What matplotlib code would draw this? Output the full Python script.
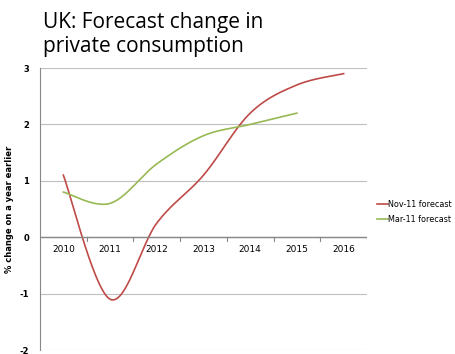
import numpy as np
import matplotlib
matplotlib.use('Agg')
import matplotlib.pyplot as plt

years = ['2010', '2011', '2012', '2013', '2014', '2015', '2016']
nov11 = [1.1, -1.1, 0.25, 1.1, 2.2, 2.7, 2.9]
mar11 = [0.8, 0.6, 1.3, 1.8, 2.0, 2.2]

def smooth(y, n=30):
    # Excel-style smoothed line (Catmull-Rom through the points)
    y = np.asarray(y, float)
    x = np.arange(len(y), dtype=float)
    p = np.column_stack([x, y])
    p = np.vstack([p[0], p, p[-1]])
    out = []
    t = np.linspace(0, 1, n)[:, None]
    for i in range(1, len(p) - 2):
        p0, p1, p2, p3 = p[i - 1], p[i], p[i + 1], p[i + 2]
        c1 = p1 + (p2 - p0) / 6
        c2 = p2 - (p3 - p1) / 6
        seg = ((1 - t)**3) * p1 + 3 * ((1 - t)**2) * t * c1 + 3 * (1 - t) * t**2 * c2 + t**3 * p2
        out.append(seg if i == 1 else seg[1:])
    s = np.vstack(out)
    return s[:, 0], s[:, 1]

fig = plt.figure(figsize=(4.56, 3.54), dpi=100)
ax = fig.add_axes([40/456, 1 - 350/354, 327/456, 282/354])

x1, y1 = smooth(nov11)
x2, y2 = smooth(mar11)
ax.plot(x1, y1, color='#be4b48', lw=1.2, label='Nov-11 forecast')
ax.plot(x2, y2, color='#98b954', lw=1.2, label='Mar-11 forecast')

ax.set_xlim(-0.5, len(years) - 0.5)
ax.set_ylim(-2, 3)
ax.set_yticks([-2, -1, 0, 1, 2, 3])
ax.set_yticklabels(['-2', '-1', '0', '1', '2', '3'], fontsize=6, fontweight='bold')
ax.yaxis.grid(True, color='#bfbfbf', lw=0.8)
ax.set_axisbelow(True)
ax.tick_params(axis='y', length=0, pad=8)

ax.set_xticks([])
for s in ['top', 'right', 'bottom']:
    ax.spines[s].set_visible(False)
ax.spines['left'].set_color('#888888')
ax.axhline(0, color='#888888', lw=1)
for i in range(len(years)):
    ax.text(i, -0.13, years[i], ha='center', va='top', fontsize=6.5)
    ax.plot([i + 0.5, i + 0.5], [0, -0.06], color='#888888', lw=0.8)

ax.set_ylabel('% change on a year earlier', fontsize=6, fontweight='bold', labelpad=4)

fig.text(43/456, 1 - 12/354, 'UK: Forecast change in\nprivate consumption',
         fontsize=15, family='Open Sans', ha='left', va='top', linespacing=1.2)

ax.legend(loc='center left', bbox_to_anchor=(1.015, 0.49), frameon=False, fontsize=5.8,
          handlelength=1.4, handletextpad=0.05, labelspacing=0.8, borderaxespad=0.2)

fig.savefig('out.png', dpi=100)
